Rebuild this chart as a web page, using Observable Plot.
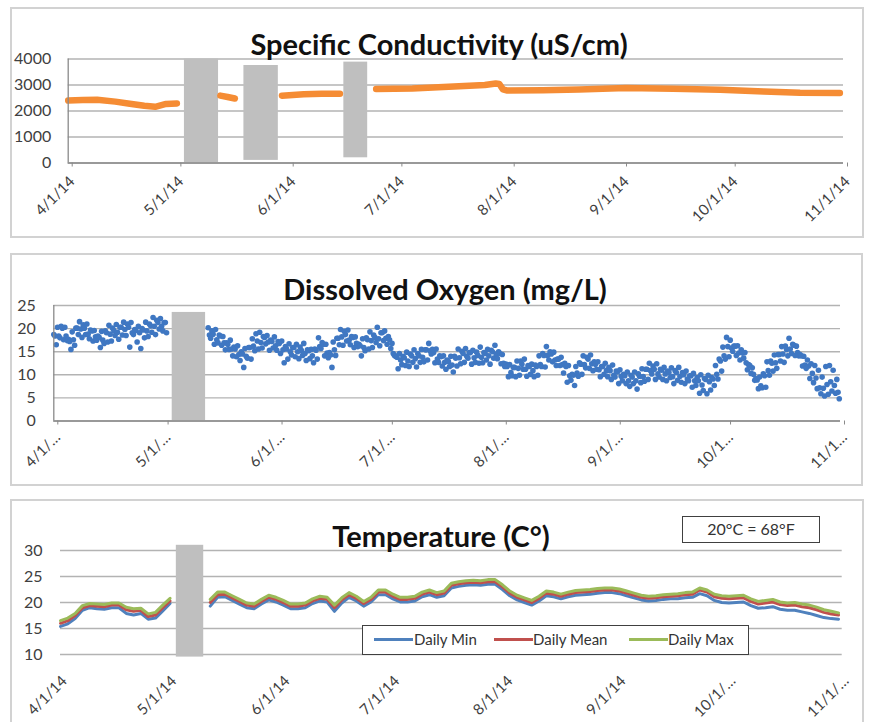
<!DOCTYPE html>
<html><head><meta charset="utf-8">
<script src="https://cdn.jsdelivr.net/npm/d3@7"></script>
<script src="https://cdn.jsdelivr.net/npm/@observablehq/plot@0.6"></script>
<style>
body{margin:0;background:#fff;}
#root{position:relative;width:870px;height:722px;overflow:hidden;background:#fff;font-family:Lato,"Open Sans",sans-serif;}
.frame{position:absolute;border:2px solid #d2d2d2;box-sizing:border-box;background:#fff;}
.title{position:absolute;font-weight:700;font-size:29px;color:#111;white-space:nowrap;transform:translate(-50%,-50%);}
.plotbox{position:absolute;left:0;}
.box{position:absolute;border:1.5px solid #404040;box-sizing:border-box;background:#fff;font-size:15px;color:#333;}
</style></head>
<body><div id="root"></div>
<script>
// ---------- shared ----------
const monthTicks = ["2014-04-01","2014-05-01","2014-06-01","2014-07-01","2014-08-01","2014-09-01","2014-10-01","2014-11-01"];
const xStart = "2014-04-01", xEnd = "2014-11-01";

// ---------- Specific Conductivity ----------
const condTitle = "Specific Conductivity (uS/cm)";
const condYTicks = [0, 1000, 2000, 3000, 4000];
const condXLabels = ["4/1/14","5/1/14","6/1/14","7/1/14","8/1/14","9/1/14","10/1/14","11/1/14"];
const condDates = ["2014-04-01","2014-04-05","2014-04-09","2014-04-14","2014-04-18","2014-04-22","2014-04-25","2014-04-28","2014-05-01","2014-05-02",
  "2014-05-13","2014-05-15","2014-05-17","2014-05-18",
  "2014-05-30","2014-06-05","2014-06-10","2014-06-15","2014-06-16",
  "2014-06-25","2014-07-05","2014-07-15","2014-07-25","2014-07-28","2014-07-29","2014-07-30","2014-07-31","2014-08-10","2014-08-20","2014-09-02","2014-09-15","2014-09-28","2014-10-10","2014-10-20","2014-10-31"];
const condValues = [2400,2420,2430,2360,2280,2200,2160,2270,2290,null,
  2590,2540,2480,null,
  2590,2640,2660,2660,null,
  2850,2870,2930,3000,3060,3040,2830,2790,2800,2830,2880,2860,2820,2750,2700,2690];
const condGapStart = ["2014-05-03T02:00Z","2014-05-19T12:00Z","2014-06-16T02:00Z"];
const condGapEnd   = ["2014-05-12T12:00Z","2014-05-29T00:00Z","2014-06-22T16:00Z"];
const condGapLow   = [0, 100, 200];
const condGapHigh  = [4000, 3750, 3880];

// ---------- Dissolved Oxygen (readings every 8 h) ----------
const doTitle = "Dissolved Oxygen (mg/L)";
const doYTicks = [0, 5, 10, 15, 20, 25];
const doXLabels = ["4/1/…","5/1/…","6/1/…","7/1/…","8/1/…","9/1/…","10/1…","11/1…"];
const doStepHours = 8;
const doSeg1Start = "2014-04-01T00:00Z";
const doSeg1 = [
18.7,18.4,16.5, 20.3,18.4,18.0, 20.5,20.1,17.6, 20.3,18.4,17.4, 17.7,17.2,15.5,
19.3,17.6,16.4, 20.1,20.1,18.7, 21.5,19.9,18.1, 20.8,20.1,18.7, 21.0,18.8,17.8,
19.7,19.5,17.3, 19.6,18.2,17.5, 18.4,18.1,15.9, 19.4,17.5,16.8, 19.5,19.1,17.1,
20.7,18.8,17.3, 20.1,19.6,18.5, 20.9,19.2,17.7, 20.3,20.3,18.6, 21.4,19.8,18.5,
21.0,20.3,16.0, 21.3,19.1,18.7, 19.8,19.6,17.1, 20.5,19.1,15.7, 20.0,19.7,18.0,
21.4,19.5,18.3, 21.0,20.6,19.2, 22.4,20.5,18.7, 21.8,21.3,19.9, 22.2,20.5,19.5,
21.3,21.3,19.1];
const doSeg2Start = "2014-05-13T00:00Z";
const doSeg2 = [
20.2,18.6,17.9, 19.5,18.8,16.6, 19.8,17.6,16.9, 18.6,18.4,16.4, 18.3,16.9,15.4,
16.9,16.6,15.5, 17.5,15.6,14.1, 16.0,15.6,13.9, 16.3,14.4,13.1, 15.0,14.5,11.6,
15.7,14.0,13.6, 15.9,15.9,13.4, 17.8,16.2,15.2, 18.9,17.3,15.6, 19.2,17.0,15.8,
18.3,18.1,16.7, 18.5,17.1,15.3, 17.5,17.2,15.8, 18.2,16.3,15.3, 17.2,16.8,14.6,
17.3,15.4,12.6, 16.1,15.6,13.4, 16.7,15.0,14.3, 15.9,15.9,13.9, 16.6,15.0,13.5,
16.0,15.3,14.2, 16.8,14.6,13.1, 15.4,15.2,13.5, 15.5,14.1,12.6, 15.6,15.3,13.4,
18.0,16.1,15.7, 17.0,16.6,14.1, 16.6,14.7,13.7, 14.8,14.3,11.6, 17.1,15.4,14.2,
17.9,17.9,16.5, 19.8,18.2,16.4, 19.4,18.7,17.3, 19.7,17.5,16.5, 18.3,18.1,15.9,
18.2,16.8,16.1, 16.6,16.3,14.1, 17.8,15.9,15.2, 18.0,17.6,15.6, 19.3,17.4,15.9,
18.6,18.1,17.0, 20.3,17.8,16.3, 19.1,19.1,17.4, 19.5,17.9,16.6, 18.3,17.6,15.7,
16.8,14.6,14.2, 14.0,13.8,11.3, 14.6,13.2,12.2, 14.0,13.7,12.0, 14.9,13.0,11.8,
14.5,14.1,12.7, 15.4,13.5,11.7, 14.6,14.1,12.7, 15.5,13.8,12.8, 15.4,15.4,13.2,
16.8,15.2,14.5, 15.5,14.8,12.6, 15.6,13.4,12.7, 14.1,13.9,11.9, 14.1,12.7,11.2,
13.2,12.9,11.8, 14.0,12.1,10.6, 14.0,13.6,11.9, 15.6,13.7,12.4, 15.1,14.6,12.7,
15.7,14.0,13.6, 14.8,14.8,12.3, 15.3,13.7,12.7, 14.9,14.2,12.5, 16.0,13.8,12.6,
14.8,14.6,13.2, 15.5,14.1,12.3, 15.3,15.0,13.6, 16.4,14.5,13.5, 15.0,14.6,12.4,
14.4,12.5,11.8, 12.3,11.8,9.6, 12.2,10.5,9.8, 11.6,11.6,9.6, 13.0,11.4,9.9,
13.0,12.3,11.2, 13.4,11.2,9.7, 12.0,11.8,10.1, 12.3,10.9,9.6, 12.1,11.8,9.9,
14.1,12.2,11.8, 14.6,14.2,11.7, 16.1,14.2,13.2, 15.0,14.5,12.8, 14.9,13.2,12.0,
13.4,13.4,12.0, 13.8,12.2,10.4, 12.5,11.8,8.4, 12.0,9.8,8.8, 10.1,9.9,7.7,
11.8,10.4,9.7, 12.6,12.3,10.1, 14.1,12.2,11.5, 13.8,13.4,11.4, 14.3,12.4,10.9,
12.8,12.3,11.2, 12.8,11.1,9.6, 11.8,11.8,10.1, 12.5,10.9,9.6, 11.6,10.9,9.0,
12.1,9.9,9.5, 10.8,10.6,8.1, 11.1,9.7,8.7, 10.1,9.8,8.1, 10.6,8.7,7.5,
9.9,9.5,8.1, 10.6,8.7,6.9, 10.2,9.7,8.3, 11.3,9.6,8.6, 11.2,11.2,9.0,
12.5,10.9,10.2, 11.9,11.2,9.0, 12.4,10.2,9.5, 11.2,11.0,9.0, 11.6,10.2,8.7,
10.8,10.5,9.4, 11.5,9.6,8.1, 10.9,10.5,8.8, 11.6,9.7,8.4, 10.5,10.0,8.1,
10.8,9.1,8.7, 9.8,9.8,7.3, 10.3,8.7,7.7, 9.4,8.7,6.0, 10.0,7.8,6.6,
9.2,9.0,5.9, 9.9,8.5,6.7, 9.4,9.1,7.7, 12.0,10.1,9.1, 13.4,13.0,10.8,
16.0,14.1,13.4, 18.1,16.1,13.9, 17.5,15.8,15.1, 16.2,16.2,14.2, 16.3,14.7,13.2,
15.4,14.7,13.6, 14.8,12.6,11.1, 12.2,12.0,10.3, 11.5,10.1,8.8, 9.2,8.9,7.0,
9.5,7.6,7.2, 10.2,9.8,7.3, 12.8,10.9,9.9, 13.0,12.5,10.8, 14.3,12.6,11.4,
14.4,14.4,13.0, 16.1,14.5,12.7, 16.2,15.5,14.1, 17.9,15.6,14.6, 16.6,16.4,14.2,
16.2,14.8,14.1, 14.4,14.1,11.9, 14.0,12.1,11.4, 13.2,11.9,9.2, 12.4,10.3,8.3,
12.0,9.3,7.0, 11.0,7.2,5.9, 9.5,7.1,5.4, 11.8,7.9,5.8, 12.0,8.5,6.5,
11.0,7.7,6.0, 9.0,6.2,4.8];
const doGapStart = ["2014-05-03T05:00Z"], doGapEnd = ["2014-05-12T07:00Z"];
const doGapLow = [0], doGapHigh = [23.5];

// ---------- Temperature (every 2 days) ----------
const tempTitle = "Temperature (C°)";
const tempNote = "20°C = 68°F";
const tempYTicks = [10, 15, 20, 25, 30];
const tempXLabels = ["4/1/14","5/1/14","6/1/14","7/1/14","8/1/14","9/1/14","10/1/…","11/1/…"];
const tempSeries = ["Daily Min", "Daily Mean", "Daily Max"];
const tempColors = ["#4f81bd", "#c0504d", "#9bbb59"];
const tempStepDays = 2;
const tempSegAStart = "2014-04-01";
const tempMeanA = [16.0,16.5,17.5,19.0,19.4,19.3,19.2,19.5,19.5,18.6,18.3,18.5,17.3,17.6,19.0,20.3];
const tempMaxA  = [16.5,17.0,17.9,19.4,19.8,19.7,19.6,19.9,19.9,19.1,18.8,18.9,17.8,18.1,19.5,20.8];
const tempMinA  = [15.4,15.9,16.9,18.5,19.0,18.8,18.7,19.0,19.0,17.9,17.6,17.9,16.8,17.0,18.4,19.8];
const tempSegBStart = "2014-05-12";
const tempMeanB = [20.0,21.5,21.6,20.9,20.2,19.5,19.3,20.2,21.0,20.6,
 20.0,19.3,19.3,19.5,20.3,20.8,20.6,19.0,20.5,21.5,
 20.8,19.8,20.6,22.0,22.0,21.2,20.6,20.6,20.8,21.6,
 22.0,21.5,21.8,23.3,23.6,23.8,23.9,23.8,24.0,24.0,
 23.0,21.8,21.0,20.5,20.0,20.8,21.8,21.6,21.2,21.6,
 21.9,22.0,22.1,22.3,22.4,22.4,22.2,21.8,21.4,21.0,
 20.8,20.9,21.1,21.2,21.3,21.5,21.6,22.4,22.0,21.1,
 20.8,20.7,20.8,20.9,20.2,19.7,19.9,20.1,19.6,19.4,
 19.5,19.2,19.0,18.6,18.1,17.8,17.6];
const tempMaxB = [20.6,22.0,22.0,21.3,20.6,19.9,19.7,20.6,21.4,21.0,
 20.4,19.7,19.7,19.9,20.7,21.2,21.0,19.5,20.9,21.9,
 21.2,20.2,21.0,22.4,22.4,21.6,21.0,21.0,21.2,22.0,
 22.4,21.9,22.2,23.7,24.0,24.2,24.3,24.2,24.4,24.4,
 23.4,22.2,21.4,20.9,20.4,21.2,22.2,22.0,21.6,22.0,
 22.3,22.4,22.5,22.7,22.8,22.8,22.6,22.2,21.8,21.4,
 21.2,21.3,21.5,21.6,21.7,21.9,22.0,22.8,22.4,21.6,
 21.3,21.2,21.3,21.4,20.7,20.2,20.4,20.6,20.1,19.9,
 20.0,19.7,19.5,19.1,18.6,18.3,18.0];
const tempMinB = [19.3,21.0,21.1,20.4,19.7,19.0,18.8,19.7,20.5,20.1,
 19.5,18.8,18.8,19.0,19.8,20.3,20.1,18.3,19.9,21.0,
 20.3,19.3,20.1,21.5,21.5,20.7,20.1,20.1,20.3,21.1,
 21.5,21.0,21.3,22.8,23.1,23.3,23.4,23.3,23.5,23.5,
 22.5,21.3,20.5,20.0,19.5,20.3,21.3,21.1,20.7,21.1,
 21.4,21.5,21.6,21.8,21.9,21.9,21.7,21.3,20.9,20.5,
 20.3,20.4,20.6,20.7,20.7,20.9,21.0,21.7,21.3,20.4,
 20.0,19.9,20.0,20.1,19.4,18.9,19.0,19.2,18.7,18.5,
 18.5,18.2,17.9,17.5,17.1,16.9,16.8];
const tempGapStart = ["2014-05-02T17:00Z"], tempGapEnd = ["2014-05-10T05:00Z"];
const tempGapLow = [9.5], tempGapHigh = [31];

// ---------- helpers ----------
const D = s => new Date(s);
const ticks = monthTicks.map(D);
const fmt = labels => { const m = new Map(ticks.map((t, i) => [+t, labels[i]])); return d => m.get(+d); };
const gaps = (s, e, lo, hi) => s.map((v, i) => ({x1: D(v), x2: D(e[i]), y1: lo[i], y2: hi[i]}));
const HOUR = 3600e3, DAY = 24 * HOUR;
const root = document.getElementById("root");
const TXT = "#404040", GRID = "#b3b3b3", AXIS = "#8a8a8a", GRAY = "#bfbfbf";
const baseStyle = {background: "transparent", overflow: "visible", fontFamily: "Lato, 'Open Sans', sans-serif"};
const plain = d => String(d);

function addDiv(cls, css, text) {
  const d = document.createElement("div");
  d.className = cls; Object.assign(d.style, css);
  if (text != null) d.textContent = text;
  root.appendChild(d); return d;
}
function place(svg, top) { svg.classList.add("plotbox"); svg.style.top = top + "px"; root.appendChild(svg); }

// frames
addDiv("frame", {left: "10px", top: "7px", width: "854px", height: "231px"});
addDiv("frame", {left: "10px", top: "253px", width: "853px", height: "233px"});
addDiv("frame", {left: "10px", top: "499px", width: "854px", height: "240px"});

const xAxis = (labels, extra) => Plot.axisX(ticks, Object.assign({tickSize: 4, tickPadding: 12, tickRotate: -45, tickFormat: fmt(labels), fontSize: 15, fill: TXT, stroke: AXIS, label: null, dx: 4}, extra));
const yAxis = (t, pad) => Plot.axisY(t, {tickSize: 0, tickPadding: pad, fontSize: 16, fill: TXT, label: null, tickFormat: plain});

// ---------- panel 1 ----------
const condRows = condDates.map((d, i) => ({date: D(d), value: condValues[i]}));
place(Plot.plot({
  width: 870, height: 240,
  marginLeft: 67.7, marginRight: 27, marginTop: 58.5, marginBottom: 77.5,
  style: baseStyle,
  x: {type: "utc", domain: [D(xStart), D(xEnd)]},
  y: {domain: [0, 4000]},
  marks: [
    Plot.gridY(condYTicks, {stroke: GRID, strokeOpacity: 1, strokeWidth: 1.4}),
    Plot.rect(gaps(condGapStart, condGapEnd, condGapLow, condGapHigh), {x1: "x1", x2: "x2", y1: "y1", y2: "y2", fill: GRAY}),
    Plot.line(condRows, {x: "date", y: "value", stroke: "#f58c34", strokeWidth: 6.5}),
    Plot.ruleX([D(xStart)], {stroke: AXIS, strokeWidth: 1.3}),
    Plot.ruleY([0], {stroke: AXIS, strokeWidth: 1.3}),
    yAxis(condYTicks, 17),
    xAxis(condXLabels)
  ]
}), 0);
addDiv("title", {left: "439px", top: "43px"}, condTitle);

// ---------- panel 2 ----------
const doRows = [];
doSeg1.forEach((v, i) => doRows.push({date: new Date(+D(doSeg1Start) + i * doStepHours * HOUR), value: v}));
doSeg2.forEach((v, i) => doRows.push({date: new Date(+D(doSeg2Start) + i * doStepHours * HOUR), value: v}));
place(Plot.plot({
  width: 870, height: 250,
  marginLeft: 53.3, marginRight: 30, marginTop: 65, marginBottom: 69.5,
  style: baseStyle,
  x: {type: "utc", domain: [D(xStart), D(xEnd)]},
  y: {domain: [0, 25]},
  marks: [
    Plot.gridY(doYTicks, {stroke: GRID, strokeOpacity: 1, strokeWidth: 1.4}),
    Plot.rect(gaps(doGapStart, doGapEnd, doGapLow, doGapHigh), {x1: "x1", x2: "x2", y1: "y1", y2: "y2", fill: GRAY}),
    Plot.dot(doRows, {x: "date", y: "value", r: 2.8, fill: "#3f77c2", stroke: null}),
    Plot.ruleX([D(xStart)], {stroke: AXIS, strokeWidth: 1.3}),
    Plot.ruleY([0], {stroke: AXIS, strokeWidth: 1.3}),
    yAxis(doYTicks, 18),
    xAxis(doXLabels, {tickPadding: 10})
  ]
}), 240);
addDiv("title", {left: "445px", top: "288px"}, doTitle);

// ---------- panel 3 ----------
const tempRows = [];
const pushSeg = (seg, start, mins, means, maxs) => means.forEach((m, i) => {
  const date = new Date(+D(start) + i * tempStepDays * DAY);
  tempRows.push({seg, date, series: tempSeries[0], value: mins[i]});
  tempRows.push({seg, date, series: tempSeries[1], value: m});
  tempRows.push({seg, date, series: tempSeries[2], value: maxs[i]});
});
pushSeg("A", tempSegAStart, tempMinA, tempMeanA, tempMaxA);
pushSeg("B", tempSegBStart, tempMinB, tempMeanB, tempMaxB);
place(Plot.plot({
  width: 870, height: 232,
  marginLeft: 60, marginRight: 28.3, marginTop: 60, marginBottom: 68,
  style: baseStyle,
  x: {type: "utc", domain: [D(xStart), D(xEnd)]},
  y: {domain: [10, 30]},
  marks: [
    Plot.gridY(tempYTicks, {stroke: GRID, strokeOpacity: 1, strokeWidth: 1.4}),
    Plot.rect(gaps(tempGapStart, tempGapEnd, tempGapLow, tempGapHigh), {x1: "x1", x2: "x2", y1: "y1", y2: "y2", fill: GRAY}),
    ...tempSeries.map((s, k) => Plot.line(tempRows.filter(r => r.series === s), {x: "date", y: "value", z: "seg", stroke: tempColors[k], strokeWidth: 3})),
    yAxis(tempYTicks, 18),
    xAxis(tempXLabels, {tickSize: 0, tickPadding: 24})
  ]
}), 490);
addDiv("title", {left: "441px", top: "535px"}, tempTitle);

// note box
addDiv("box", {left: "682px", top: "516px", width: "138px", height: "27px", lineHeight: "24px", textAlign: "center", fontSize: "16px"}, tempNote);
// legend
const leg = addDiv("box", {left: "362px", top: "625px", width: "387px", height: "30px"});
const swX = [11, 131, 266], txX = [51, 170, 305];
tempSeries.forEach((s, i) => {
  const sw = document.createElement("div");
  Object.assign(sw.style, {position: "absolute", left: swX[i] + "px", top: "12px", width: "39px", height: "3px", background: tempColors[i]});
  leg.appendChild(sw);
  const t = document.createElement("div");
  Object.assign(t.style, {position: "absolute", left: txX[i] + "px", top: "4px", lineHeight: "18px", whiteSpace: "nowrap"});
  t.textContent = s; leg.appendChild(t);
});
</script></body></html>
